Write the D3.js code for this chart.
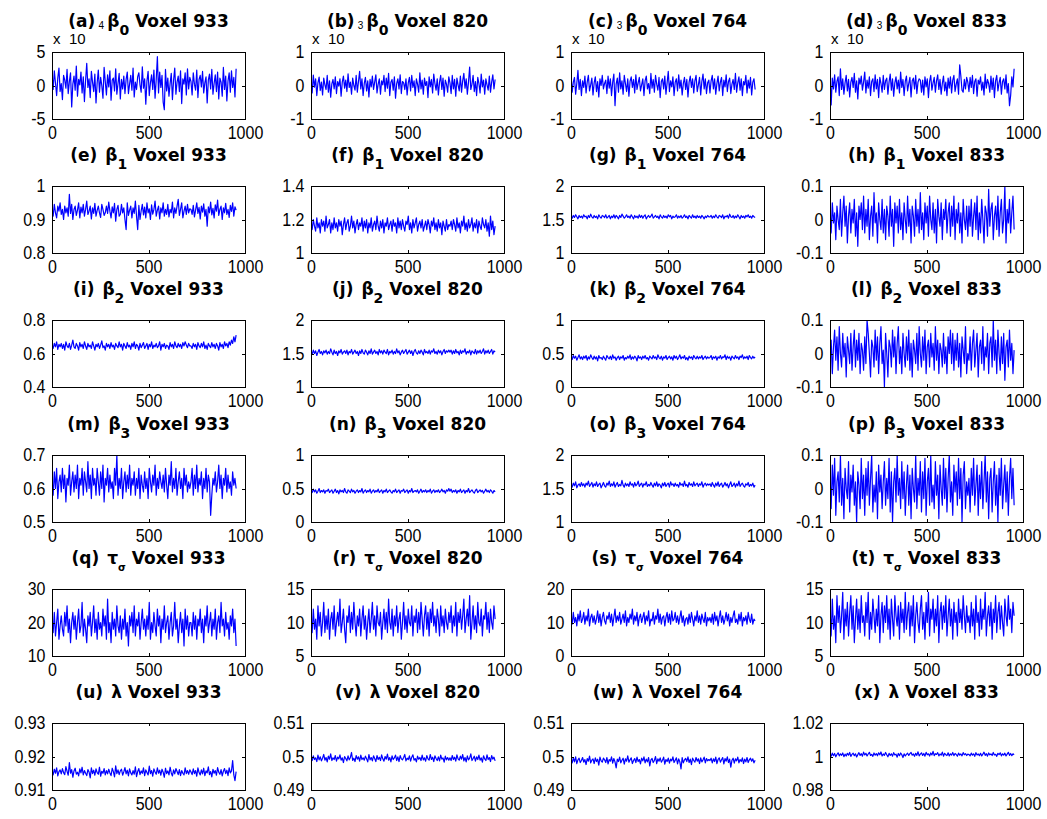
<!DOCTYPE html>
<html>
<head>
<meta charset="utf-8">
<script src="https://cdn.jsdelivr.net/npm/d3@7"></script>
<style>
  body { margin: 0; background: #fff; }
  text { white-space: pre; }
</style>
</head>
<body>
<div id="chart"></div>
<script>
// MCMC trace plots, one value kept every THIN iterations
var THIN = 6;

var voxels = [933, 820, 764, 833];
var letters = ["a","b","c","d","e","f","g","h","i","j","k","l","m","n","o","p","q","r","s","t","u","v","w","x"];
// parameter symbol + subscript for each row
var rowSymbol = ["β", "β", "β", "β", "τ", "λ"];
var rowSub = ["0", "1", "2", "3", "σ", ""];

var xDomain = [0, 1000];
var xTicks = [0, 500, 1000];

var yDomains = [
  [[-5, 5], [-1, 1], [-1, 1], [-1, 1]],
  [[0.8, 1], [1, 1.4], [1, 2], [-0.1, 0.1]],
  [[0.4, 0.8], [1, 2], [0, 1], [-0.1, 0.1]],
  [[0.5, 0.7], [0, 1], [1, 2], [-0.1, 0.1]],
  [[10, 30], [5, 15], [0, 20], [5, 15]],
  [[0.91, 0.93], [0.49, 0.51], [0.49, 0.51], [0.98, 1.02]]
];
var yTicks = [
  [[-5, 0, 5], [-1, 0, 1], [-1, 0, 1], [-1, 0, 1]],
  [[0.8, 0.9, 1], [1, 1.2, 1.4], [1, 1.5, 2], [-0.1, 0, 0.1]],
  [[0.4, 0.6, 0.8], [1, 1.5, 2], [0, 0.5, 1], [-0.1, 0, 0.1]],
  [[0.5, 0.6, 0.7], [0, 0.5, 1], [1, 1.5, 2], [-0.1, 0, 0.1]],
  [[10, 20, 30], [5, 10, 15], [0, 10, 20], [5, 10, 15]],
  [[0.91, 0.92, 0.93], [0.49, 0.5, 0.51], [0.49, 0.5, 0.51], [0.98, 1, 1.02]]
];
// axis multiplier label "x 10^n" (first row only), exponent as it shows
var yExponent = ["4", "3", "3", "3"];

// beta0 (in units of the axis multiplier)
var b0_933 = [1.8,-0.6,2.2,0.4,-1.5,1.1,2.6,-0.9,0.3,-2.1, 1.5,0.8,-0.4,2.4,-1.2,0.6,1.9,-3.2,0.2,1.4,
  -0.7,2.9,-1.6,0.9,0.1,2.0,-1.1,1.3,-2.4,0.7, 3.3,-0.3,1.0,-1.8,2.1,0.5,-0.9,1.7,-2.6,0.4,
  2.3,-1.0,1.2,0.0,-1.9,2.7,0.6,-1.4,1.6,-0.2, 2.2,-2.2,0.8,1.1,-0.8,2.5,-1.3,0.3,1.8,-2.0,
  0.9,-0.5,1.4,-1.2,0.9,2.0,-1.2,0.2,1.5,-0.7, 2.6,-1.7,0.5,-0.6,1.3,1.9,0.1,-1.0,2.8,-0.4,
  1.0,-2.8,0.7,2.1,-1.5,0.4,1.6,-0.6,2.3,-1.9, 0.9,4.3,-1.1,2.0,-0.3,1.5,-2.5,-3.6,2.4,-0.8,
  1.1,-1.6,0.3,1.8,-2.1,0.8,2.6,-1.3,0.5,1.4, -0.9,2.2,-2.7,1.0,0.2,1.9,-1.4,2.5,-0.5,1.2,
  0.6,-1.4,1.9,0.2,-0.7,2.3,-1.8,0.9,1.5,-0.2, 2.1,-1.1,0.4,1.3,-2.6,0.8,1.7,-0.5,2.4,-1.3,
  0.3,1.6,-0.9,2.0,-2.0,1.1,0.5,-1.6,2.7,-0.6, 1.4,-2.3,0.7,1.9,-1.0,2.2,-0.3,1.2,-1.7,2.5];
var b0_820 = [0.15,-0.22,0.31,-0.05,0.2,-0.3,0.08,0.25,-0.15,0.1, -0.28,0.22,0.02,-0.12,0.3,-0.2,0.14,-0.35,0.05,0.18,
  -0.1,0.26,-0.24,0.12,-0.02,0.2,-0.32,0.1,0.28,-0.08, 0.16,-0.18,0.35,-0.06,0.1,-0.26,0.22,0.0,-0.14,0.3,
  -0.2,0.12,0.42,-0.1,0.2,-0.3,0.06,0.24,-0.16,0.14, -0.34,0.18,-0.04,0.28,-0.12,0.1,0.32,-0.22,0.04,0.2,
  -0.26,0.14,0.02,0.3,-0.18,0.22,-0.08,0.36,-0.3,0.1, 0.18,-0.14,0.26,-0.38,0.06,0.2,-0.1,0.32,-0.24,0.12,
  0.08,-0.12,0.2,-0.28,0.08,0.24,-0.16,0.3,-0.06,0.14, -0.3,0.2,0.04,-0.2,0.38,-0.1,0.16,-0.26,0.22,0.0,
  0.12,-0.36,0.26,-0.04,0.18,-0.22,0.34,0.06,-0.14,0.2, -0.28,0.1,0.3,-0.12,0.22,-0.32,0.16,0.04,-0.2,0.26,
  0.08,-0.24,0.3,-0.1,0.18,-0.32,0.22,0.02,-0.16,0.28, -0.2,0.14,0.36,-0.08,0.2,-0.26,0.1,0.55,-0.12,0.04,
  0.3,-0.18,0.12,-0.3,0.24,0.06,-0.22,0.34,-0.04,0.16, -0.26,0.2,0.02,-0.14,0.28,-0.2,0.1,0.32,-0.1,0.18];
var b0_764 = [0.32,-0.2,0.1,0.24,-0.26,0.06,0.45,-0.12,0.18,-0.3, 0.14,-0.06,0.28,-0.22,0.1,0.3,-0.16,0.02,0.22,-0.28,
  0.08,0.26,-0.18,0.12,-0.34,0.2,0.0,0.3,-0.1,0.06, 0.16,-0.24,0.28,-0.08,0.2,-0.3,0.1,0.34,-0.6,0.04,
  0.22,-0.2,0.38,-0.1,0.14,-0.26,0.3,0.06,-0.18,0.2, -0.32,0.12,0.26,-0.06,0.18,-0.22,0.32,-0.12,0.08,0.24,
  -0.16,0.02,0.2,-0.3,0.14,0.28,-0.1,0.06,-0.24,0.36, -0.08,0.18,-0.2,0.3,0.04,-0.14,0.24,-0.36,0.12,0.2,
  -0.1,0.28,-0.26,0.08,0.42,-0.18,0.14,-0.04,0.26,-0.3, 0.1,0.2,-0.16,0.32,-0.08,0.16,-0.28,0.06,0.24,-0.12,
  0.18,-0.34,0.1,0.28,-0.06,0.2,-0.22,0.14,0.3,-0.18, 0.02,0.24,-0.28,0.12,0.34,-0.1,0.2,-0.24,0.08,0.16,
  -0.22,0.14,0.3,-0.1,0.2,-0.26,0.06,0.28,-0.16,0.1, 0.24,-0.3,0.16,-0.04,0.32,-0.18,0.12,0.22,-0.24,0.04,
  0.18,-0.12,0.36,-0.2,0.08,0.26,-0.14,0.2,-0.3,0.12, 0.02,0.3,-0.22,0.16,-0.08,0.24,-0.28,0.1,0.2,-0.12];
var b0_833 = [0.3,-0.58,0.22,-0.1,0.32,-0.2,0.12,0.26,-0.3,0.5, -0.12,0.2,-0.26,0.08,0.3,-0.16,0.18,-0.34,0.1,0.24,
  -0.06,0.36,-0.2,0.14,-0.4,0.22,0.04,0.28,-0.14,0.1, 0.4,-0.22,0.16,-0.08,0.26,-0.3,0.12,0.2,-0.18,0.32,
  -0.1,0.18,-0.36,0.24,0.06,-0.2,0.3,-0.12,0.14,0.22, -0.26,0.1,0.34,-0.14,0.2,-0.32,0.08,0.26,-0.1,0.16,
  -0.22,0.4,-0.06,0.18,-0.3,0.12,0.28,-0.16,0.06,0.24, -0.34,0.14,0.22,-0.1,0.3,-0.24,0.1,0.2,0.16,-0.2,
  0.16,-0.28,0.26,-0.04,0.2,-0.36,0.12,0.3,-0.14,0.08, 0.24,-0.2,0.14,0.32,-0.12,0.18,-0.26,0.06,0.28,-0.16,
  0.1,-0.3,0.22,-0.08,0.26,-0.22,0.16,0.3,-0.18,0.04, 0.2,-0.26,0.62,0.28,-0.14,-0.2,0.18,-0.1,0.24,0.1,
  -0.18,0.24,-0.06,0.3,-0.24,0.12,0.2,-0.32,0.16,0.04, 0.26,-0.14,0.1,-0.28,0.34,-0.08,0.18,0.06,-0.2,0.28,
  -0.12,0.22,-0.36,0.14,0.3,-0.16,0.08,0.24,-0.26,0.12, 0.2,-0.1,0.32,-0.22,0.06,-0.6,-0.3,0.26,-0.04,0.5];

// beta1
var b1_933 = [0.935,0.91,0.945,0.92,0.905,0.94,0.925,0.95,0.915,0.93, 0.9,0.94,0.92,0.935,0.91,0.975,0.918,0.945,0.9,0.93,
  0.94,0.912,0.928,0.95,0.905,0.937,0.92,0.945,0.91,0.93, 0.955,0.915,0.925,0.94,0.902,0.935,0.918,0.948,0.91,0.927,
  0.94,0.92,0.906,0.945,0.93,0.912,0.92,0.94,0.918,0.952, 0.925,0.905,0.938,0.92,0.948,0.895,0.93,0.942,0.91,0.915,
  0.945,0.92,0.935,0.9,0.87,0.95,0.912,0.928,0.94,0.905, 0.935,0.918,0.955,0.91,0.87,0.942,0.9,0.926,0.945,0.914,
  0.937,0.905,0.95,0.92,0.932,0.9,0.944,0.916,0.93,0.955, 0.91,0.928,0.94,0.902,0.935,0.92,0.95,0.91,0.93,0.915,
  0.945,0.908,0.93,0.92,0.952,0.905,0.935,0.918,0.94,0.96, 0.912,0.93,0.95,0.905,0.925,0.94,0.915,0.945,0.92,0.932,
  0.93,0.915,0.942,0.908,0.928,0.95,0.918,0.936,0.902,0.94, 0.922,0.947,0.91,0.93,0.88,0.938,0.92,0.952,0.914,0.933,
  0.905,0.944,0.925,0.958,0.912,0.93,0.94,0.9,0.935,0.92, 0.948,0.915,0.93,0.906,0.942,0.924,0.95,0.91,0.938,0.928];
var b1_820 = [1.19,1.14,1.2,1.16,1.13,1.21,1.15,1.18,1.12,1.2, 1.16,1.19,1.13,1.22,1.15,1.17,1.2,1.12,1.18,1.14,
  1.21,1.15,1.18,1.13,1.2,1.16,1.19,1.11,1.17,1.21, 1.14,1.18,1.2,1.13,1.16,1.22,1.15,1.19,1.12,1.17,
  1.2,1.14,1.18,1.16,1.21,1.13,1.19,1.15,1.2,1.12, 1.18,1.15,1.21,1.13,1.17,1.19,1.14,1.22,1.16,1.13,
  1.19,1.15,1.2,1.12,1.18,1.16,1.21,1.14,1.17,1.19, 1.13,1.2,1.16,1.18,1.12,1.21,1.15,1.19,1.14,1.2,
  1.16,1.13,1.19,1.17,1.22,1.14,1.18,1.12,1.2,1.15, 1.18,1.21,1.13,1.17,1.19,1.15,1.2,1.13,1.16,1.19,
  1.14,1.2,1.17,1.12,1.19,1.16,1.21,1.14,1.18,1.13, 1.2,1.15,1.18,1.11,1.19,1.16,1.13,1.2,1.14,1.17,
  1.16,1.19,1.14,1.2,1.17,1.13,1.21,1.15,1.18,1.12, 1.19,1.16,1.22,1.14,1.18,1.13,1.2,1.15,1.17,1.21,
  1.13,1.18,1.15,1.2,1.12,1.19,1.16,1.14,1.21,1.17, 1.15,1.2,1.13,1.18,1.1,1.22,1.14,1.19,1.11,1.16];
var b1_764 = [1.55,1.52,1.56,1.53,1.57,1.54,1.51,1.56,1.53,1.55, 1.52,1.57,1.54,1.55,1.51,1.56,1.53,1.58,1.54,1.52,
  1.56,1.53,1.55,1.51,1.57,1.54,1.52,1.56,1.55,1.53, 1.57,1.52,1.54,1.56,1.51,1.55,1.53,1.57,1.52,1.56,
  1.54,1.51,1.56,1.53,1.58,1.55,1.52,1.54,1.57,1.53, 1.55,1.52,1.57,1.54,1.51,1.56,1.53,1.55,1.52,1.57,
  1.53,1.56,1.52,1.55,1.57,1.51,1.54,1.56,1.53,1.55, 1.58,1.52,1.54,1.56,1.53,1.55,1.51,1.57,1.54,1.52,
  1.56,1.53,1.55,1.52,1.57,1.54,1.56,1.51,1.55,1.53, 1.54,1.57,1.52,1.55,1.53,1.56,1.52,1.54,1.57,1.53,
  1.55,1.51,1.56,1.54,1.52,1.57,1.53,1.55,1.52,1.56, 1.53,1.55,1.52,1.56,1.54,1.51,1.55,1.53,1.56,1.54,
  1.54,1.56,1.52,1.55,1.53,1.57,1.54,1.52,1.56,1.55, 1.53,1.57,1.51,1.55,1.54,1.56,1.52,1.58,1.54,1.53,
  1.56,1.52,1.55,1.53,1.57,1.54,1.51,1.56,1.53,1.55, 1.52,1.56,1.54,1.57,1.53,1.55,1.52,1.56,1.54,1.53];
var b1_833 = [0.03,-0.04,0.05,-0.01,0.02,-0.06,0.04,0.0,-0.03,0.06, -0.05,0.02,0.07,-0.02,0.04,-0.07,0.01,0.05,-0.04,0.03,
  -0.01,0.06,-0.05,0.02,-0.08,0.04,0.0,0.05,-0.03,0.07, -0.04,0.03,-0.02,0.06,-0.06,0.01,0.04,-0.05,0.08,-0.01,
  0.02,-0.07,0.05,0.0,-0.03,0.06,-0.04,0.03,-0.06,0.04, 0.01,-0.05,0.07,-0.02,0.03,-0.08,0.05,-0.01,0.04,-0.04,
  0.06,-0.03,0.02,-0.06,0.05,0.0,-0.04,0.07,-0.02,0.03, -0.07,0.04,0.01,-0.05,0.06,-0.02,0.03,-0.04,0.08,-0.03,
  0.02,-0.06,0.05,-0.01,0.04,-0.05,0.07,0.0,-0.03,0.05, -0.04,0.03,-0.07,0.06,0.01,-0.02,0.05,-0.06,0.03,0.0,
  0.06,-0.04,0.02,0.05,-0.05,0.04,-0.02,0.07,-0.06,0.03, -0.01,0.05,-0.04,0.02,-0.07,0.06,0.0,-0.03,0.04,-0.05,
  0.04,-0.02,0.06,-0.05,0.01,0.05,-0.03,0.07,-0.06,0.02, -0.04,0.06,0.0,-0.07,0.04,0.02,-0.05,0.09,-0.02,0.03,
  0.05,-0.06,0.01,0.04,-0.03,0.07,-0.05,0.02,0.06,-0.04, 0.0,0.1,-0.07,0.03,-0.01,0.06,-0.04,0.02,0.07,-0.03];

// beta2
var b2_933 = [0.65,0.63,0.66,0.64,0.67,0.625,0.655,0.64,0.66,0.63, 0.655,0.62,0.67,0.645,0.635,0.66,0.625,0.65,0.68,0.64,
  0.63,0.66,0.645,0.62,0.665,0.64,0.655,0.63,0.67,0.645, 0.625,0.66,0.64,0.65,0.63,0.67,0.645,0.62,0.655,0.64,
  0.66,0.63,0.65,0.675,0.635,0.645,0.62,0.66,0.64,0.655, 0.63,0.665,0.64,0.65,0.625,0.66,0.645,0.635,0.67,0.64,
  0.655,0.62,0.66,0.645,0.63,0.665,0.64,0.65,0.625,0.66, 0.64,0.67,0.63,0.655,0.645,0.62,0.66,0.635,0.65,0.665,
  0.63,0.645,0.66,0.625,0.655,0.64,0.67,0.63,0.65,0.64, 0.66,0.635,0.645,0.67,0.62,0.655,0.64,0.66,0.63,0.65,
  0.645,0.625,0.665,0.64,0.655,0.63,0.67,0.645,0.635,0.66, 0.64,0.655,0.63,0.665,0.645,0.67,0.65,0.635,0.66,0.645,
  0.645,0.63,0.66,0.64,0.655,0.625,0.665,0.645,0.635,0.66, 0.64,0.67,0.63,0.65,0.625,0.66,0.645,0.635,0.665,0.64,
  0.655,0.63,0.66,0.645,0.62,0.665,0.64,0.655,0.63,0.67, 0.645,0.66,0.635,0.67,0.65,0.68,0.66,0.7,0.67,0.71];
var b2_820 = [1.53,1.49,1.55,1.5,1.54,1.47,1.52,1.56,1.5,1.53, 1.48,1.54,1.51,1.55,1.49,1.53,1.5,1.57,1.52,1.48,
  1.55,1.5,1.53,1.47,1.54,1.51,1.56,1.49,1.52,1.54, 1.5,1.55,1.48,1.53,1.51,1.56,1.49,1.52,1.55,1.5,
  1.53,1.47,1.54,1.5,1.56,1.51,1.49,1.55,1.52,1.48, 1.54,1.5,1.57,1.49,1.52,1.55,1.5,1.53,1.48,1.56,
  1.51,1.54,1.49,1.55,1.52,1.5,1.56,1.48,1.53,1.51, 1.55,1.49,1.53,1.5,1.57,1.51,1.54,1.48,1.52,1.55,
  1.5,1.53,1.56,1.49,1.52,1.55,1.5,1.54,1.47,1.53, 1.56,1.51,1.49,1.54,1.5,1.55,1.52,1.48,1.56,1.51,
  1.53,1.5,1.55,1.49,1.54,1.52,1.57,1.5,1.53,1.49, 1.55,1.51,1.54,1.48,1.53,1.56,1.5,1.54,1.52,1.55,
  1.52,1.55,1.49,1.54,1.5,1.56,1.51,1.53,1.48,1.55, 1.5,1.54,1.52,1.57,1.49,1.53,1.51,1.55,1.48,1.54,
  1.52,1.5,1.56,1.49,1.54,1.51,1.55,1.5,1.53,1.57, 1.49,1.54,1.51,1.55,1.5,1.53,1.56,1.49,1.54,1.52];
var b2_764 = [0.45,0.41,0.47,0.43,0.46,0.4,0.44,0.48,0.42,0.45, 0.41,0.46,0.43,0.47,0.4,0.45,0.42,0.48,0.44,0.41,
  0.46,0.42,0.45,0.39,0.47,0.43,0.44,0.41,0.46,0.43, 0.4,0.47,0.44,0.42,0.46,0.41,0.48,0.43,0.45,0.4,
  0.44,0.46,0.41,0.45,0.43,0.47,0.4,0.44,0.42,0.46, 0.43,0.48,0.41,0.45,0.42,0.46,0.44,0.39,0.47,0.43,
  0.45,0.41,0.46,0.43,0.47,0.42,0.44,0.4,0.46,0.44, 0.42,0.47,0.43,0.45,0.41,0.48,0.44,0.42,0.46,0.4,
  0.45,0.43,0.47,0.41,0.44,0.46,0.42,0.45,0.4,0.47, 0.43,0.46,0.41,0.44,0.48,0.42,0.45,0.43,0.47,0.41,
  0.44,0.4,0.46,0.43,0.45,0.41,0.47,0.44,0.42,0.46, 0.42,0.45,0.43,0.47,0.41,0.44,0.46,0.42,0.45,0.43,
  0.44,0.47,0.41,0.45,0.43,0.46,0.4,0.45,0.43,0.47, 0.42,0.45,0.44,0.48,0.41,0.46,0.43,0.45,0.4,0.46,
  0.44,0.42,0.47,0.43,0.45,0.41,0.46,0.44,0.48,0.42, 0.45,0.43,0.46,0.41,0.47,0.44,0.42,0.46,0.43,0.45];
var b2_833 = [-0.03,0.04,-0.06,0.02,0.07,-0.02,0.05,-0.05,0.08,0.0, -0.04,0.06,-0.01,0.03,-0.07,0.05,0.01,-0.03,0.06,-0.05,
  0.02,0.07,-0.04,0.04,-0.02,0.06,-0.06,0.03,0.01,-0.05, 0.05,-0.03,0.1,0.06,0.0,-0.07,0.04,0.02,-0.04,0.07,
  -0.02,0.05,-0.06,0.03,0.08,-0.03,0.01,-0.1,0.06,0.0, -0.07,0.04,0.02,-0.04,0.07,-0.01,0.05,-0.06,0.03,0.08,
  -0.03,0.02,-0.06,0.06,0.0,-0.04,0.05,-0.02,0.07,-0.05, 0.03,-0.07,0.04,0.01,-0.03,0.06,-0.05,0.08,0.0,-0.04,
  0.05,-0.02,0.07,-0.06,0.02,0.04,-0.04,0.06,-0.01,0.03, -0.05,0.08,-0.02,0.04,-0.06,0.03,0.01,-0.04,0.06,-0.03,
  0.02,-0.06,0.05,0.0,0.07,-0.03,0.06,-0.05,0.04,-0.02, 0.06,-0.04,0.03,-0.07,0.05,0.01,-0.03,0.08,-0.06,0.0,
  -0.02,0.05,-0.05,0.03,0.07,-0.04,0.01,0.06,-0.07,0.02, 0.04,-0.03,0.08,-0.05,0.02,-0.01,0.06,-0.06,0.03,0.05,
  -0.04,0.1,-0.02,0.04,-0.06,0.07,0.0,-0.05,0.05,-0.03, 0.06,-0.08,0.02,0.04,-0.04,0.07,-0.02,0.03,-0.06,0.01];

// beta3
var b3_933 = [0.63,0.58,0.65,0.6,0.66,0.57,0.62,0.64,0.59,0.66, 0.6,0.64,0.56,0.63,0.61,0.67,0.58,0.62,0.65,0.59,
  0.64,0.6,0.67,0.57,0.63,0.61,0.66,0.58,0.65,0.62, 0.59,0.68,0.6,0.64,0.57,0.66,0.61,0.63,0.58,0.66,
  0.62,0.58,0.65,0.6,0.67,0.56,0.63,0.61,0.66,0.59, 0.64,0.6,0.62,0.57,0.66,0.61,0.7,0.58,0.63,0.6,
  0.66,0.57,0.62,0.65,0.59,0.64,0.6,0.67,0.58,0.63, 0.61,0.65,0.58,0.63,0.6,0.66,0.57,0.64,0.61,0.59,
  0.65,0.6,0.63,0.57,0.66,0.62,0.59,0.64,0.61,0.67, 0.58,0.63,0.6,0.65,0.62,0.6,0.64,0.59,0.66,0.61,
  0.57,0.64,0.61,0.68,0.59,0.63,0.6,0.66,0.58,0.62, 0.65,0.6,0.63,0.57,0.66,0.61,0.64,0.59,0.62,0.6,
  0.62,0.66,0.58,0.64,0.6,0.67,0.59,0.63,0.61,0.65, 0.57,0.63,0.6,0.66,0.59,0.64,0.62,0.52,0.58,0.63,
  0.61,0.65,0.59,0.62,0.67,0.6,0.64,0.57,0.63,0.61, 0.66,0.59,0.64,0.6,0.62,0.58,0.65,0.61,0.63,0.6];
var b3_820 = [0.47,0.44,0.49,0.45,0.48,0.43,0.46,0.5,0.44,0.47, 0.45,0.48,0.43,0.47,0.46,0.49,0.44,0.46,0.48,0.43,
  0.46,0.49,0.44,0.47,0.42,0.48,0.45,0.47,0.44,0.5, 0.45,0.43,0.48,0.46,0.44,0.49,0.45,0.47,0.43,0.46,
  0.48,0.44,0.47,0.45,0.5,0.43,0.46,0.48,0.44,0.47, 0.45,0.49,0.43,0.46,0.48,0.44,0.47,0.45,0.49,0.44,
  0.46,0.48,0.43,0.47,0.45,0.49,0.44,0.46,0.48,0.45, 0.43,0.47,0.45,0.49,0.44,0.46,0.48,0.43,0.47,0.46,
  0.49,0.44,0.46,0.48,0.43,0.47,0.45,0.5,0.44,0.46, 0.47,0.45,0.48,0.43,0.46,0.49,0.44,0.47,0.45,0.48,
  0.44,0.47,0.45,0.49,0.43,0.46,0.48,0.44,0.47,0.45, 0.48,0.44,0.46,0.49,0.45,0.47,0.43,0.48,0.46,0.5,
  0.46,0.49,0.44,0.47,0.45,0.48,0.43,0.47,0.45,0.49, 0.44,0.46,0.48,0.43,0.47,0.45,0.5,0.44,0.46,0.48,
  0.45,0.43,0.47,0.49,0.44,0.46,0.48,0.45,0.47,0.43, 0.46,0.49,0.45,0.47,0.44,0.48,0.46,0.43,0.47,0.45];
var b3_764 = [1.56,1.52,1.58,1.54,1.6,1.51,1.55,1.57,1.53,1.59, 1.54,1.57,1.52,1.58,1.55,1.61,1.53,1.56,1.59,1.52,
  1.57,1.54,1.6,1.53,1.56,1.58,1.51,1.55,1.59,1.54, 1.52,1.58,1.55,1.61,1.53,1.57,1.54,1.6,1.52,1.56,
  1.59,1.53,1.56,1.54,1.62,1.55,1.52,1.58,1.54,1.57, 1.53,1.6,1.55,1.57,1.52,1.59,1.54,1.56,1.61,1.53,
  1.56,1.58,1.52,1.57,1.55,1.6,1.53,1.56,1.54,1.59, 1.55,1.52,1.58,1.54,1.6,1.53,1.57,1.55,1.51,1.58,
  1.54,1.59,1.53,1.56,1.58,1.52,1.6,1.55,1.57,1.53, 1.58,1.54,1.56,1.52,1.59,1.55,1.57,1.53,1.61,1.54,
  1.56,1.52,1.59,1.55,1.57,1.53,1.6,1.54,1.56,1.58, 1.53,1.57,1.55,1.6,1.52,1.56,1.58,1.54,1.57,1.55,
  1.57,1.53,1.59,1.55,1.52,1.58,1.54,1.6,1.53,1.56, 1.58,1.52,1.55,1.59,1.54,1.57,1.51,1.56,1.6,1.53,
  1.55,1.58,1.52,1.57,1.54,1.61,1.53,1.56,1.58,1.54, 1.52,1.57,1.55,1.59,1.53,1.56,1.54,1.58,1.52,1.55];
var b3_833 = [0.04,-0.06,0.07,-0.02,0.09,-0.08,0.02,0.05,-0.04,0.1, -0.05,0.03,-0.09,0.06,0.0,-0.03,0.08,-0.07,0.04,-0.01,
  0.07,-0.05,0.02,-0.1,0.05,0.01,-0.06,0.09,-0.03,0.04, -0.08,0.06,-0.02,0.08,-0.05,0.03,0.1,-0.07,0.01,-0.04,
  0.05,-0.09,0.07,-0.01,0.04,-0.06,0.02,0.08,-0.05,0.03, -0.03,0.09,-0.07,0.05,-0.1,0.02,0.06,-0.04,0.1,-0.02,
  0.03,-0.06,0.08,-0.03,0.05,-0.08,0.01,0.07,-0.05,0.04, -0.09,0.06,0.0,-0.04,0.1,-0.06,0.03,-0.02,0.08,-0.07,
  0.05,-0.03,0.09,-0.08,0.02,0.06,-0.05,0.1,-0.04,0.01, -0.06,0.08,-0.02,0.04,-0.09,0.07,0.0,-0.05,0.09,-0.03,
  0.06,-0.07,0.03,0.1,-0.04,0.02,-0.08,0.07,-0.01,0.05, -0.05,0.09,-0.03,0.06,-0.1,0.04,0.08,-0.06,0.02,-0.02,
  0.03,-0.07,0.06,-0.02,0.09,-0.05,0.01,0.07,-0.08,0.04, -0.03,0.08,-0.06,0.02,0.1,-0.04,0.05,-0.09,0.03,0.06,
  -0.07,0.02,0.08,-0.05,0.04,-0.1,0.06,-0.02,0.09,-0.06, 0.01,0.07,-0.04,0.05,-0.08,0.03,0.09,-0.03,0.06,-0.05];

// tau_sigma
var tau_933 = [21,17,23,16,20,24,15,19,22,18, 16,23,19,25,17,21,14,20,23,18, 22,15,20,24,17,19,26,16,21,18,
  14,22,19,23,16,20,25,17,21,15, 23,18,20,16,24,19,22,15,27,17, 20,14,23,18,21,16,25,19,17,22,
  15,21,18,24,16,20,13,22,19,23, 17,25,16,21,19,23,15,20,24,18, 21,16,22,18,26,15,20,17,23,19,
  16,24,19,22,14,21,18,25,17,20, 22,15,20,23,16,19,26,18,21,14, 19,23,17,21,13,24,18,22,16,20,
  20,16,23,18,22,15,21,19,24,17, 21,14,22,19,25,17,20,23,16,21, 18,24,15,20,22,17,26,19,21,16,
  23,18,20,15,22,19,24,17,21,13];
var tau_820 = [11,8.5,12,9,10.5,7.5,12.5,9.5,11.5,8, 10,13,8.5,11,9,12,7.5,10.5,11.5,9, 12.5,8,10,11.5,9.5,13.5,8.5,10,12,9,
  7,11,10,12.5,8.5,11.5,9,13,10,8, 11,9.5,12,8,10.5,12.5,9,11,7.5,10, 12,8.5,10.5,13,9,11,8,12.5,10,9.5,
  11.5,7.5,10,12,9,11.5,8.5,13.5,10,9, 12,8,11,9.5,12.5,8.5,10.5,11.5,7.5,10, 13,9,11,8.5,12,10,9.5,12.5,8,11,
  10,12,8.5,11.5,9,13,10.5,8,11,12.5, 9,11.5,8,12,10,13,9.5,11,8.5,12, 10.5,8,12.5,9.5,11,8.5,12,10,9,11.5,
  10,12.5,8.5,11,9.5,13,8,11.5,10,12, 9,11,13.5,8.5,10.5,12,9.5,14,7.5,10, 12.5,9,11,8.5,13,10,9.5,12,8,11,
  10.5,13,9,11.5,8.5,12,10,9,12.5,10.5];
var tau_764 = [12,9.5,13,10,11.5,9,12.5,10.5,13.5,10, 11,13,9.5,12,10.5,14,9,11.5,12.5,10, 12,9.5,11,13.5,10,12.5,9,11.5,13,10.5,
  9.5,12,11,13,10,12.5,9,11.5,14,10, 12,10.5,13,9.5,11,12.5,10,13.5,9,11.5, 10,12.5,11,14,9.5,12,10.5,13,9,11.5,
  12.5,10,11.5,13,9.5,12,10.5,13.5,9,11, 10.5,13,9.5,12,11,14,10,12.5,9.5,11.5, 12,9,11.5,13,10,12.5,9.5,13.5,10.5,11,
  13,10,12,9.5,11.5,13.5,10,12,9,11, 11.5,9.5,12.5,10,13,11,9,12,10.5,13.5, 10,12,9.5,12.5,11,10,13,9,11.5,10.5,
  11.5,10,12.5,9.5,13,10.5,12,9,11.5,13.5, 10,12,9.5,11,13,10.5,12.5,9,11.5,10, 12,13.5,10,11,9.5,12.5,10.5,13,9,11.5,
  10.5,12,9.5,13,11,10,12.5,9.5,11,10.5];
var tau_833 = [12,8,13.5,9,11,7,14,10,12.5,8.5, 11,14.5,7.5,12,9.5,13,8,11.5,14,9, 12.5,7,10.5,13.5,9,12,8.5,14,10,11,
  8,13,10,14.5,7.5,11.5,9,13.5,11,8.5, 12,9.5,14,7,11,13,8.5,12.5,10,14, 9,12,7.5,13.5,10.5,8,14,11,9.5,12.5,
  7.5,13,10,12,8.5,14.5,9,11.5,13,8, 12.5,9.5,14,7,11,13,10,8.5,12,14, 9,11.5,7.5,13,10,14.5,8,12,10.5,13.5,
  8.5,12,9.5,14,7,11.5,13,9,12.5,10, 14,8,11,13.5,9.5,12,7.5,13,10,11.5, 8,13.5,10,12,9,14,11,8.5,12.5,10,
  11,8.5,13,9.5,12,7.5,14,10,11.5,8, 13.5,9,12,10.5,14.5,8,11,12.5,9.5,13, 7.5,12,10,14,8.5,11.5,13,9,12.5,10,
  8,13.5,11,9.5,14,10.5,12,8.5,13,11];

// lambda
var lam_933 = [0.9158,0.9145,0.9162,0.915,0.9166,0.9142,0.9155,0.916,0.9148,0.9164,
  0.9152,0.9146,0.917,0.9156,0.9144,0.9182,0.915,0.9161,0.9138,0.9157,
  0.9165,0.9147,0.9153,0.9142,0.9163,0.9151,0.9168,0.9145,0.9158,0.915,
  0.9143,0.9161,0.9154,0.9136,0.9166,0.9149,0.9159,0.9144,0.9163,0.9152,
  0.9147,0.9168,0.9141,0.9156,0.915,0.9164,0.9145,0.9158,0.9148,0.9162,
  0.9151,0.9143,0.9165,0.9155,0.9139,0.9172,0.9149,0.916,0.9146,0.9157,
  0.9162,0.9144,0.9154,0.9167,0.9148,0.9159,0.9142,0.9163,0.9151,0.9145,
  0.9158,0.9147,0.9169,0.914,0.9155,0.9164,0.9146,0.9157,0.915,0.9166,
  0.9143,0.916,0.9152,0.9145,0.9171,0.9149,0.9158,0.9141,0.9163,0.9154,
  0.9147,0.9166,0.915,0.9159,0.9144,0.9162,0.9153,0.9138,0.9165,0.9149,
  0.9157,0.9145,0.9168,0.9151,0.9142,0.916,0.9148,0.9164,0.9155,0.9146,
  0.9161,0.9143,0.9158,0.915,0.9145,0.9166,0.9149,0.9158,0.9147,0.916,
  0.9154,0.9146,0.9163,0.9149,0.9158,0.9141,0.9166,0.9152,0.9145,0.916,
  0.9148,0.9165,0.9143,0.9157,0.9151,0.9169,0.9146,0.9155,0.9139,0.9162,
  0.915,0.9158,0.9144,0.9167,0.9153,0.9147,0.9161,0.9142,0.9156,0.9164,
  0.9149,0.9159,0.9143,0.9166,0.9151,0.9157,0.9188,0.9145,0.9128,0.9155];
var lam_820 = [0.4998,0.4988,0.5002,0.4991,0.4996,0.4985,0.5004,0.499,0.4999,0.4987,
  0.4995,0.5006,0.4989,0.4997,0.4984,0.5001,0.4992,0.5008,0.4988,0.4996,
  0.4991,0.5003,0.4986,0.4998,0.4993,0.5005,0.4989,0.4996,0.4982,0.5,
  0.4994,0.4987,0.5002,0.499,0.4997,0.5012,0.4988,0.4995,0.4985,0.5003,
  0.4992,0.4999,0.4986,0.5004,0.4991,0.4996,0.4989,0.5001,0.4993,0.4984,
  0.5006,0.499,0.4997,0.4987,0.5002,0.4994,0.4985,0.5003,0.4991,0.4998,
  0.4988,0.5005,0.4993,0.4986,0.5,0.4992,0.5007,0.4989,0.4997,0.4984,
  0.5002,0.4991,0.4996,0.5004,0.4988,0.4999,0.4985,0.5003,0.4993,0.499,
  0.4997,0.5006,0.4987,0.4995,0.4991,0.5002,0.4986,0.4998,0.5005,0.4989,
  0.4994,0.4984,0.5001,0.4992,0.4997,0.4988,0.5004,0.499,0.4996,0.4986,
  0.5003,0.4993,0.4989,0.5006,0.4991,0.4998,0.4985,0.5002,0.4994,0.4988,
  0.4999,0.4987,0.5004,0.4992,0.4996,0.4983,0.5001,0.499,0.4997,0.4989,
  0.4996,0.4988,0.5003,0.4991,0.4998,0.4986,0.5005,0.4993,0.4989,0.5001,
  0.4992,0.5006,0.4987,0.4997,0.4984,0.5002,0.499,0.4995,0.5008,0.4988,
  0.4994,0.5001,0.4986,0.4999,0.4991,0.5004,0.4989,0.4996,0.4983,0.5002,
  0.4993,0.4988,0.5005,0.4991,0.4997,0.4985,0.5003,0.4992,0.4998,0.4987];
var lam_764 = [0.4992,0.4981,0.4996,0.4984,0.4999,0.4979,0.499,0.4995,0.4982,0.4988,
  0.4997,0.4983,0.4991,0.4976,0.4994,0.4986,0.5001,0.4981,0.4989,0.4993,
  0.4979,0.4996,0.4985,0.4992,0.4974,0.4998,0.4987,0.4983,0.4995,0.499,
  0.4982,0.4997,0.4978,0.4991,0.4986,0.4999,0.498,0.4994,0.4984,0.4966,
  0.4992,0.4985,0.4998,0.4981,0.4989,0.4995,0.4977,0.4993,0.4986,0.5002,
  0.4983,0.499,0.4996,0.4979,0.4988,0.4994,0.4982,0.4998,0.4985,0.4991,
  0.4978,0.4995,0.4987,0.4999,0.4981,0.4992,0.4984,0.4997,0.4972,0.499,
  0.4994,0.4982,0.4988,0.5,0.4979,0.4993,0.4986,0.4996,0.4983,0.4989,
  0.4998,0.4977,0.4991,0.4985,0.4995,0.498,0.4992,0.4987,0.4999,0.4982,
  0.4989,0.4996,0.4978,0.4993,0.4984,0.4963,0.4997,0.4981,0.499,0.4994,
  0.4985,0.4999,0.4982,0.4992,0.4976,0.4995,0.4988,0.4983,0.4997,0.4986,
  0.4993,0.4979,0.4996,0.4984,0.499,0.4998,0.4981,0.4994,0.4987,0.4991,
  0.4988,0.4995,0.4981,0.4993,0.4985,0.4998,0.4979,0.4991,0.4996,0.4983,
  0.499,0.4997,0.4978,0.4994,0.4986,0.4999,0.4982,0.4992,0.4968,0.4989,
  0.4995,0.498,0.4993,0.4987,0.4998,0.4981,0.4991,0.4985,0.4996,0.4979,
  0.4992,0.4984,0.4997,0.4982,0.499,0.4995,0.4986,0.4993,0.4981,0.4989];
var lam_833 = [1.0015,1.0002,1.002,1.0005,1.0018,0.9998,1.0012,1.0022,1.0004,1.0016,
  1.0007,1.0021,0.9999,1.0014,1.0003,1.0019,1.0008,1.0024,1.0001,1.0013,
  1.002,1.0005,1.0016,0.9997,1.0011,1.0023,1.0006,1.0017,1.0002,1.0026,
  1.0009,1.0019,1.0003,1.0015,1.0025,1.0006,1.0013,1.0001,1.0021,1.0008,
  1.0017,1.0004,1.0022,1.001,1.0027,1.0003,1.0015,1.0007,1.0024,1.0011,
  0.9998,1.0019,1.0006,1.0016,1.0002,1.0023,1.0009,1.0014,0.9996,1.0018,
  1.0005,1.0021,1.0011,0.9994,1.0016,1.0003,1.0013,1.002,1.0006,1.0017,
  1.0024,1.0008,1.0015,1.0001,1.0019,1.0007,1.0028,1.0004,1.0014,1.0022,
  1.0006,1.0018,1.0002,1.0025,1.001,1.0016,1.0003,1.0021,1.0009,1.0031,
  1.0005,1.0017,1.0012,1.0023,1.0004,1.0015,1.0008,1.0026,1.0002,1.0019,
  1.0011,1.0006,1.0022,1.0003,1.0016,1.0009,1.0024,1.0005,1.0018,1.0012,
  1.0002,1.002,1.0008,1.0015,1.0004,1.0023,1.001,1.0017,1.0006,1.0014,
  1.0012,1.0004,1.002,1.0008,1.0016,1.0001,1.0023,1.0009,1.0015,1.0005,
  1.0019,1.0003,1.0014,1.0026,1.0007,1.0017,1.0002,1.0021,1.001,1.0015,
  1.0006,1.0024,1.0009,1.0013,1.0001,1.0019,1.0011,1.0022,1.0004,1.0016,
  1.0008,1.002,1.0003,1.0014,1.0025,1.0007,1.0018,1.0005,1.0016,1.001];

var traces = [
  [b0_933, b0_820, b0_764, b0_833],
  [b1_933, b1_820, b1_764, b1_833],
  [b2_933, b2_820, b2_764, b2_833],
  [b3_933, b3_820, b3_764, b3_833],
  [tau_933, tau_820, tau_764, tau_833],
  [lam_933, lam_820, lam_764, lam_833]
];

// layout
var W = 1047, H = 819;
var left0 = 52, colStep = 259.3, plotW = 193;
var top0 = 52, rowStep = 134.2, plotH = 67;
var tickFont = "'Liberation Sans', Arial, Helvetica, sans-serif";
var titleFont = "'DejaVu Sans', Verdana, sans-serif";

var svg = d3.select("#chart").append("svg")
  .attr("width", W)
  .attr("height", H)
  .style("display", "block");

var x = d3.scaleLinear().domain(xDomain).range([0, plotW]);

traces.forEach(function(row, r) {
  row.forEach(function(series, c) {
    var left = Math.round(left0 + c * colStep),
        top = Math.round(top0 + r * rowStep);

    var y = d3.scaleLinear().domain(yDomains[r][c]).range([plotH, 0]);

    var g = svg.append("g").attr("transform", "translate(" + left + "," + top + ")");

    // clip the trace to the axes box
    var clipId = "clip-" + r + "-" + c;
    g.append("clipPath").attr("id", clipId)
      .append("rect").attr("width", plotW + 1).attr("height", plotH + 1);

    var line = d3.line()
      .x(function(d, i) { return x(i * THIN); })
      .y(function(d) { return y(d); });

    g.append("path")
      .datum(series)
      .attr("clip-path", "url(#" + clipId + ")")
      .attr("fill", "none")
      .attr("stroke", "#0000ff")
      .attr("stroke-width", 1.2)
      .attr("stroke-linejoin", "round")
      .attr("d", line);

    // box with inward ticks on all four sides
    var xb = g.append("g").attr("transform", "translate(0," + plotH + ")")
      .call(d3.axisBottom(x).tickValues(xTicks).tickSize(-3).tickSizeOuter(0).tickFormat(d3.format("d")));
    g.append("g")
      .call(d3.axisTop(x).tickValues(xTicks).tickSize(-3).tickSizeOuter(0).tickFormat(""));
    var yl = g.append("g")
      .call(d3.axisLeft(y).tickValues(yTicks[r][c]).tickSize(-3).tickSizeOuter(0).tickFormat(function(d) { return String(d); }));
    g.append("g").attr("transform", "translate(" + plotW + ",0)")
      .call(d3.axisRight(y).tickValues(yTicks[r][c]).tickSize(-3).tickSizeOuter(0).tickFormat(""));

    g.selectAll(".domain, .tick line").attr("shape-rendering", "crispEdges");

    [xb, yl].forEach(function(ax) {
      ax.attr("font-family", tickFont).attr("font-size", 16);
    });
    xb.selectAll("text")
      .attr("y", 0).attr("dy", null)
      .attr("transform", "translate(0,20) scale(1,1.18)");
    yl.selectAll("text")
      .attr("x", 0).attr("dy", null)
      .attr("transform", "translate(-6.5,5.5) scale(1,1.18)");

    // multiplier label on the first row
    if (r === 0) {
      g.append("text")
        .attr("x", 1).attr("y", -8)
        .attr("font-family", tickFont).attr("font-size", 15)
        .text("x");
      g.append("text")
        .attr("x", 17).attr("y", -8)
        .attr("font-family", tickFont).attr("font-size", 15)
        .text("10");
    }

    // title in two pieces: "(a)" and "β0 Voxel 933", centred together
    var tLabel = g.append("text")
      .attr("y", -25)
      .attr("font-family", titleFont)
      .attr("font-weight", "bold")
      .attr("font-size", 17)
      .text("(" + letters[r * 4 + c] + ")");
    var tMain = g.append("text")
      .attr("y", -25)
      .attr("font-family", titleFont)
      .attr("font-weight", "bold")
      .attr("font-size", 17);
    tMain.append("tspan").text(rowSymbol[r]);
    if (rowSub[r] === "σ") {
      tMain.append("tspan").attr("dy", 7).attr("font-size", 10).text(rowSub[r]);
      tMain.append("tspan").attr("dy", -7).text(" Voxel " + voxels[c]);
    } else if (rowSub[r] !== "") {
      tMain.append("tspan").attr("dy", 8).attr("font-size", 14).text(rowSub[r]);
      tMain.append("tspan").attr("dy", -8).text(" Voxel " + voxels[c]);
    } else {
      tMain.append("tspan").text(" Voxel " + voxels[c]);
    }
    var w1 = tLabel.node().getComputedTextLength(),
        w2 = tMain.node().getComputedTextLength(),
        gap = r === 0 ? 12 : 8;
    var x0 = plotW / 2 - (w1 + gap + w2) / 2;
    tLabel.attr("x", x0);
    tMain.attr("x", x0 + w1 + gap);

    // exponent of the multiplier sits in the title gap, as in the figure
    if (r === 0) {
      g.append("text")
        .attr("x", x0 + w1 + gap / 2).attr("y", -23)
        .attr("text-anchor", "middle")
        .attr("font-family", tickFont).attr("font-size", 10)
        .text(yExponent[c]);
    }
  });
});
</script>
</body>
</html>
